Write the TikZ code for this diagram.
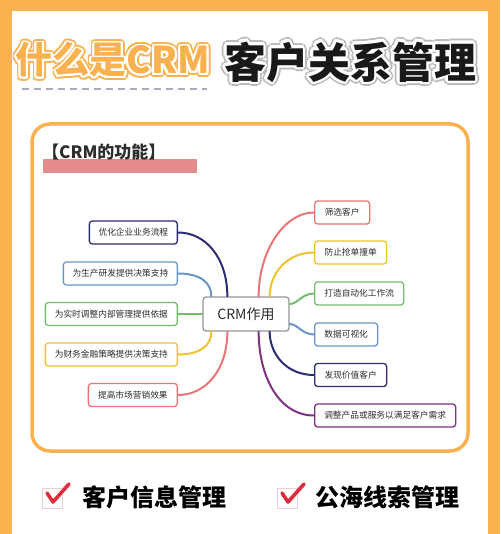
\documentclass[tikz,border=0pt]{standalone}
\usepackage{fontspec}
\setmainfont{Noto Sans CJK SC}
\usetikzlibrary{calc}
\definecolor{orng}{RGB}{250,178,80}
\definecolor{navy}{RGB}{45,45,115}
\definecolor{lblue}{RGB}{105,150,200}
\definecolor{lgreen}{RGB}{115,190,105}
\definecolor{lyellow}{RGB}{240,195,45}
\definecolor{lred}{RGB}{232,118,118}
\definecolor{lpurple}{RGB}{125,50,130}
\definecolor{cgray}{RGB}{150,150,150}
\definecolor{txt}{RGB}{45,45,45}
\definecolor{pinkbar}{RGB}{228,140,140}
\definecolor{dashc}{RGB}{165,172,190}
\definecolor{outg}{RGB}{185,185,185}
\definecolor{checkred}{RGB}{222,45,60}
\definecolor{boxpink}{RGB}{242,205,205}
\tikzset{
  leaf/.style={draw=#1, line width=1.3, rounded corners=3, fill=white, minimum height=23,
    inner sep=0, font=\fontsize{8.7}{10}\selectfont, text=txt},
  link/.style={draw=#1, line width=2, line cap=round},
  bigorange/.style={inner sep=0, font=\fontsize{37}{40}\selectfont\bfseries},
  bigblack/.style={inner sep=0, font=\fontsize{42}{46}\selectfont\bfseries},
  bottomtxt/.style={inner sep=0, anchor=west, font=\fontsize{24}{26}\selectfont\bfseries, text=black},
  checkmk/.style={draw=checkred, line width=3.6, line cap=round, line join=round}
}
\begin{document}
\begin{tikzpicture}[x=1pt,y=-1pt]
\useasboundingbox (0,0) rectangle (500,534);
\fill[orng] (0,0) rectangle (500,534);
\fill[white] (12,11) rectangle (488,534);

% title left (orange outlined)
\foreach \a in {0,20,...,340} {
  \node[bigorange, text=orng] (toa\a) at ($(113,60)+(\a:3.8)$) {什么是CRM};
}
\foreach \a in {0,20,...,340} {
  \node[bigorange, text=white] (tow\a) at ($(113,60)+(\a:2)$) {什么是CRM};
}
\node[bigorange, text=orng] (tleft) at (113,60) {什么是CRM};
\draw[dashc, line width=1.5, dash pattern=on 7pt off 5pt] (22,89) -- (207,89);

% title right (black with halo)
\foreach \a in {0,20,...,340} {
  \node[bigblack, text=outg] (tba\a) at ($(350,62)+(\a:4.2)$) {客户关系管理};
}
\foreach \a in {0,20,...,340} {
  \node[bigblack, text=white] (tbw\a) at ($(350,62)+(\a:2.4)$) {客户关系管理};
}
\node[bigblack, text=black!90] (tright) at (350,62) {客户关系管理};

% card
\draw[orng, line width=3.5, rounded corners=18, fill=white] (32,124) rectangle (468,451);
\fill[pinkbar] (43,159) rectangle (197,173);
\node[anchor=west, inner sep=0, font=\fontsize{17}{20}\selectfont\bfseries, text=txt] (head) at (42,152) {【CRM的功能】};

% center
\node[draw=cgray, line width=1.3, rounded corners=3, fill=white, minimum width=86, minimum height=34,
  inner sep=0, font=\fontsize{14}{16}\selectfont, text=txt] (c) at (246,314) {CRM作用};

% left nodes
\node[leaf=navy, minimum width=88, anchor=east] (l1) at (178,232.5) {优化企业业务流程};
\node[leaf=lblue, minimum width=114, anchor=east] (l2) at (178,273.5) {为生产研发提供决策支持};
\node[leaf=lgreen, minimum width=132, anchor=east] (l3) at (178,314) {为实时调整内部管理提供依据};
\node[leaf=lyellow, minimum width=132, anchor=east] (l4) at (178,354.5) {为财务金融策略提供决策支持};
\node[leaf=lred, minimum width=89, anchor=east] (l5) at (178,395) {提高市场营销效果};

% right nodes
\node[leaf=lred, minimum width=55, anchor=west] (r1) at (314,212.5) {筛选客户};
\node[leaf=lyellow, minimum width=72, anchor=west] (r2) at (314,252.5) {防止抢单撞单};
\node[leaf=lgreen, minimum width=89, anchor=west] (r3) at (314,293.5) {打造自动化工作流};
\node[leaf=lblue, minimum width=63, anchor=west] (r4) at (314,334.5) {数据可视化};
\node[leaf=navy, minimum width=72, anchor=west] (r5) at (314,375) {发现价值客户};
\node[leaf=lpurple, minimum width=141, anchor=west] (r6) at (314,415.5) {调整产品或服务以满足客户需求};

% left connectors
\draw[link=navy] (l1.east) .. controls +(28,0) and +(0,-38) .. ([xshift=25]c.north west);
\draw[link=lblue] (l2.east) .. controls +(22,0) and +(0,-14) .. ([xshift=9]c.north west);
\draw[link=lgreen] (l3.east) -- (c.west);
\draw[link=lyellow] (l4.east) .. controls +(22,0) and +(0,14) .. ([xshift=9]c.south west);
\draw[link=lred] (l5.east) .. controls +(28,0) and +(0,38) .. ([xshift=25]c.south west);

% right connectors
\draw[link=lred] (r1.west) .. controls +(-30,0) and +(0,-45) .. ([xshift=-31]c.north east);
\draw[link=lyellow] (r2.west) .. controls +(-28,0) and +(0,-22) .. ([xshift=-20]c.north east);
\draw[link=lgreen] (r3.west) .. controls +(-12,0) and +(8,0) .. ([yshift=10]c.east);
\draw[link=lblue] (r4.west) .. controls +(-12,0) and +(8,0) .. ([yshift=-10]c.east);
\draw[link=navy] (r5.west) .. controls +(-28,0) and +(0,22) .. ([xshift=-20]c.south east);
\draw[link=lpurple] (r6.west) .. controls +(-35,0) and +(0,45) .. ([xshift=-31]c.south east);

% bottom checks
\draw[boxpink, line width=0.6] (42,488) rectangle (62,508);
\draw[checkmk] (47,493) -- (53,502) -- (69,484);
\node[bottomtxt] (b1) at (82,497) {客户信息管理};
\draw[boxpink, line width=0.6] (277,488) rectangle (297,508);
\draw[checkmk] (282,493) -- (288,502) -- (304,484);
\node[bottomtxt] (b2) at (315,497) {公海线索管理};
\end{tikzpicture}
\end{document}
